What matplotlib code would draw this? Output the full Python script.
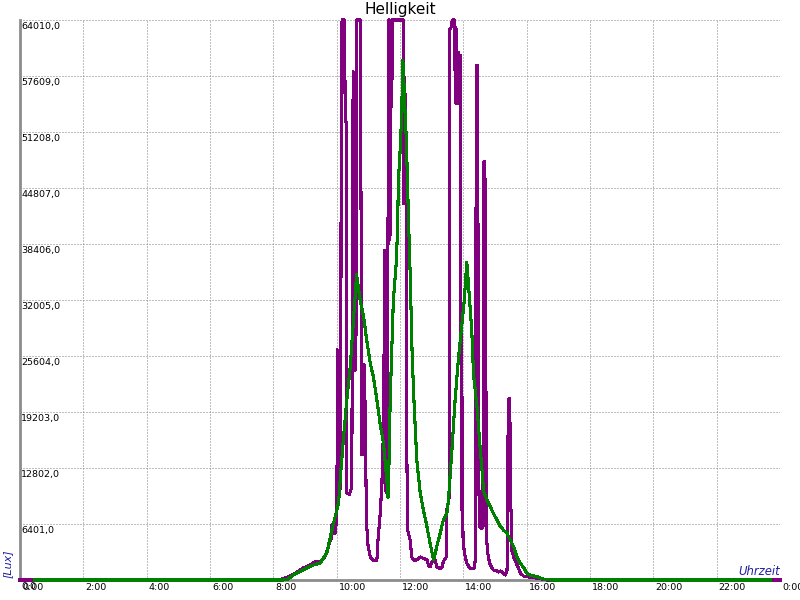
import matplotlib
matplotlib.use("Agg")
import matplotlib.pyplot as plt
from matplotlib.transforms import offset_copy

purple = [
    (0.00, 0), (8.15, 0), (8.37, 230), (8.59, 570), (8.75, 910), (8.94, 1370),
    (9.10, 1600), (9.26, 1940), (9.35, 2170), (9.45, 2060), (9.54, 2290),
    (9.64, 2740), (9.73, 3770), (9.83, 4800), (9.85, 6290), (9.89, 5370),
    (9.92, 6170), (9.95, 5370), (9.98, 6290), (9.99, 12900), (10.00, 12970),
    (10.01, 8680), (10.02, 26300), (10.04, 8700), (10.05, 24000), (10.06, 10500),
    (10.08, 25000), (10.09, 12000), (10.10, 22800), (10.12, 10400), (10.13, 20000),
    (10.14, 45600), (10.17, 64010), (10.25, 64010), (10.27, 52400), (10.30, 52400),
    (10.32, 9970), (10.40, 9750), (10.46, 10400), (10.48, 13400), (10.50, 35400),
    (10.52, 58100), (10.54, 30000), (10.56, 58000), (10.58, 24000), (10.60, 56000),
    (10.62, 28000), (10.64, 64010), (10.74, 64010), (10.75, 58700), (10.77, 42100),
    (10.78, 14300), (10.80, 24600), (10.82, 14300), (10.84, 23500), (10.86, 15000),
    (10.87, 24600), (10.90, 19400), (10.94, 6740), (10.99, 3950), (11.06, 2660),
    (11.16, 2230), (11.27, 2230), (11.30, 4380), (11.34, 6100), (11.37, 7390),
    (11.43, 11000), (11.45, 15550), (11.48, 12000), (11.51, 37700), (11.53, 37700),
    (11.54, 12000), (11.56, 10000), (11.59, 21100), (11.60, 12900), (11.62, 38700),
    (11.64, 64010), (11.66, 38900), (11.68, 64010), (11.70, 39500), (11.72, 64010),
    (11.74, 54100), (11.76, 64010), (12.10, 64010), (12.12, 43000), (12.14, 57500),
    (12.16, 43000), (12.18, 55500), (12.20, 42900), (12.21, 16800), (12.24, 5700),
    (12.32, 4570), (12.37, 2630), (12.42, 2290), (12.53, 2290), (12.64, 2630),
    (12.85, 2290), (12.90, 1710), (12.95, 1520), (13.01, 2100), (13.11, 2290),
    (13.16, 1520), (13.22, 1370), (13.32, 1370), (13.37, 2100), (13.46, 2630),
    (13.48, 8000), (13.55, 9370), (13.56, 40000), (13.57, 62900), (13.63, 63300),
    (13.65, 64010), (13.71, 64010), (13.72, 58300), (13.74, 63200), (13.76, 54500),
    (13.78, 63000), (13.80, 54500), (13.82, 60300), (13.84, 54500), (13.86, 60300),
    (13.88, 54700), (13.90, 60000), (13.92, 40800), (13.93, 22000), (13.95, 8000),
    (13.96, 21000), (13.98, 8500), (13.99, 4900), (14.01, 3810), (14.06, 2630),
    (14.11, 1940), (14.20, 1370), (14.27, 1260), (14.34, 1370), (14.38, 2290),
    (14.41, 58800), (14.45, 58800), (14.48, 13700), (14.51, 6060), (14.59, 5900),
    (14.62, 6060), (14.64, 47800), (14.68, 47800), (14.70, 35100), (14.71, 35100),
    (14.72, 5370), (14.77, 3090), (14.83, 1940), (14.90, 1370), (14.95, 1140),
    (15.06, 1030), (15.11, 910), (15.17, 1030), (15.22, 910), (15.27, 690),
    (15.32, 570), (15.38, 1140), (15.40, 13700), (15.43, 20700), (15.47, 20700),
    (15.48, 9940), (15.51, 7600), (15.53, 3400), (15.59, 2630), (15.67, 1940),
    (15.74, 1370), (15.80, 800), (15.90, 460), (16.01, 380), (16.22, 260),
    (16.43, 150), (16.64, 0), (24.00, 0),
]

# green = smoothed curve
green_t = [0.45, 8.30, 8.43, 8.63, 8.94, 9.26, 9.48, 9.69, 9.85, 9.95, 10.06,
           10.11, 10.21, 10.32, 10.43, 10.53, 10.63, 10.74, 10.85, 10.95, 11.06,
           11.16, 11.27, 11.37, 11.48, 11.59, 11.62, 11.65, 11.69, 11.74, 11.79,
           11.88, 11.92, 11.95, 12.01, 12.05, 12.09, 12.13, 12.16, 12.20, 12.24,
           12.27, 12.32, 12.38, 12.43, 12.53, 12.64, 12.74, 12.85, 12.95, 13.06,
           13.16, 13.27, 13.37, 13.48, 13.53, 13.64, 13.74, 13.85, 13.96, 14.03,
           14.11, 14.22, 14.27, 14.32, 14.43, 14.53, 14.59, 14.64, 14.75, 14.85,
           14.95, 15.06, 15.17, 15.27, 15.38, 15.48, 15.59, 15.69, 15.80, 15.91,
           16.01, 16.11, 16.33, 16.53, 16.75, 23.70]
green_v = [0, 0, 30, 570, 1140, 1710, 1940, 3090, 5700, 7200, 8800,
           11400, 16000, 20600, 24400, 29700, 34900, 32000, 30100, 27400, 24800,
           23200, 20600, 17900, 15600, 11200, 9400, 12950, 20600, 26300, 32000,
           36200, 39700, 45700, 49500, 53000, 59400, 56400, 53400, 50300, 45000,
           41100, 35100, 26300, 21300, 13700, 9900, 8000, 6100, 4200, 2290,
           3810, 5370, 6860, 7620, 9140, 14900, 20600, 25500, 29400, 32000,
           36300, 30900, 28200, 23600, 19800, 15200, 12600, 10100, 9140, 8380,
           7620, 6860, 6100, 5700, 5330, 4570, 3810, 2670, 1900, 1370,
           760, 570, 380, 110, 0, 0]

y_ticks = [0, 6401, 12802, 19203, 25604, 32005, 38406, 44807, 51208, 57609, 64010]
x_ticks = [0, 2, 4, 6, 8, 10, 12, 14, 16, 18, 20, 22, 24]
x_labels = ["0:00", "2:00", "4:00", "6:00", "8:00", "10:00", "12:00", "14:00",
            "16:00", "18:00", "20:00", "22:00", "0:00"]

fig = plt.figure(figsize=(8, 6), dpi=100)
ax = fig.add_axes([20 / 800, 20 / 600, 760 / 800, 560 / 600])
ax.set_xlim(0, 24)
ax.set_ylim(0, 64010)

purple_t = [p[0] for p in purple]
purple_v = [p[1] for p in purple]
ax.plot(purple_t, purple_v, color="#800080", lw=1.5, zorder=3,
        clip_on=False, antialiased=False)
ax.plot(green_t, green_v, color="#008000", lw=1.5, zorder=4,
        clip_on=False, antialiased=False)

ax.set_xticks(x_ticks)
ax.set_yticks(y_ticks)
ax.set_xticklabels([])
ax.set_yticklabels([])
ax.tick_params(length=0)
ax.grid(True, color="#808080", lw=0.72, linestyle=(0, (1, 2)))
for s in ("top", "right"):
    ax.spines[s].set_visible(False)
for s in ("left", "bottom"):
    ax.spines[s].set_color("#8c8c8c")
    ax.spines[s].set_linewidth(2.0)

ytrans = offset_copy(ax.get_yaxis_transform(), fig=fig, x=1, y=-2, units="dots")
for v in y_ticks:
    ax.text(0, v, "%d,0" % v, transform=ytrans, ha="left", va="top",
            fontsize=6.8, clip_on=False, zorder=5)

xtrans = offset_copy(ax.get_xaxis_transform(), fig=fig, x=2, y=-3, units="dots")
for t, lab in zip(x_ticks, x_labels):
    ax.text(t, 0, lab, transform=xtrans, ha="left", va="top",
            fontsize=6.8, clip_on=False)

fig.text(0.5, 1 - 2 / 600, "Helligkeit", ha="center", va="top", fontsize=11)
fig.text(3 / 800, 22 / 600, "[Lux]", rotation=90, ha="left", va="bottom",
         fontsize=8, style="italic", color="#2020a0")
fig.text(780 / 800, 22 / 600, "Uhrzeit", ha="right", va="bottom",
         fontsize=8.4, style="italic", color="#2020a0")

fig.savefig("out.png", dpi=100)
